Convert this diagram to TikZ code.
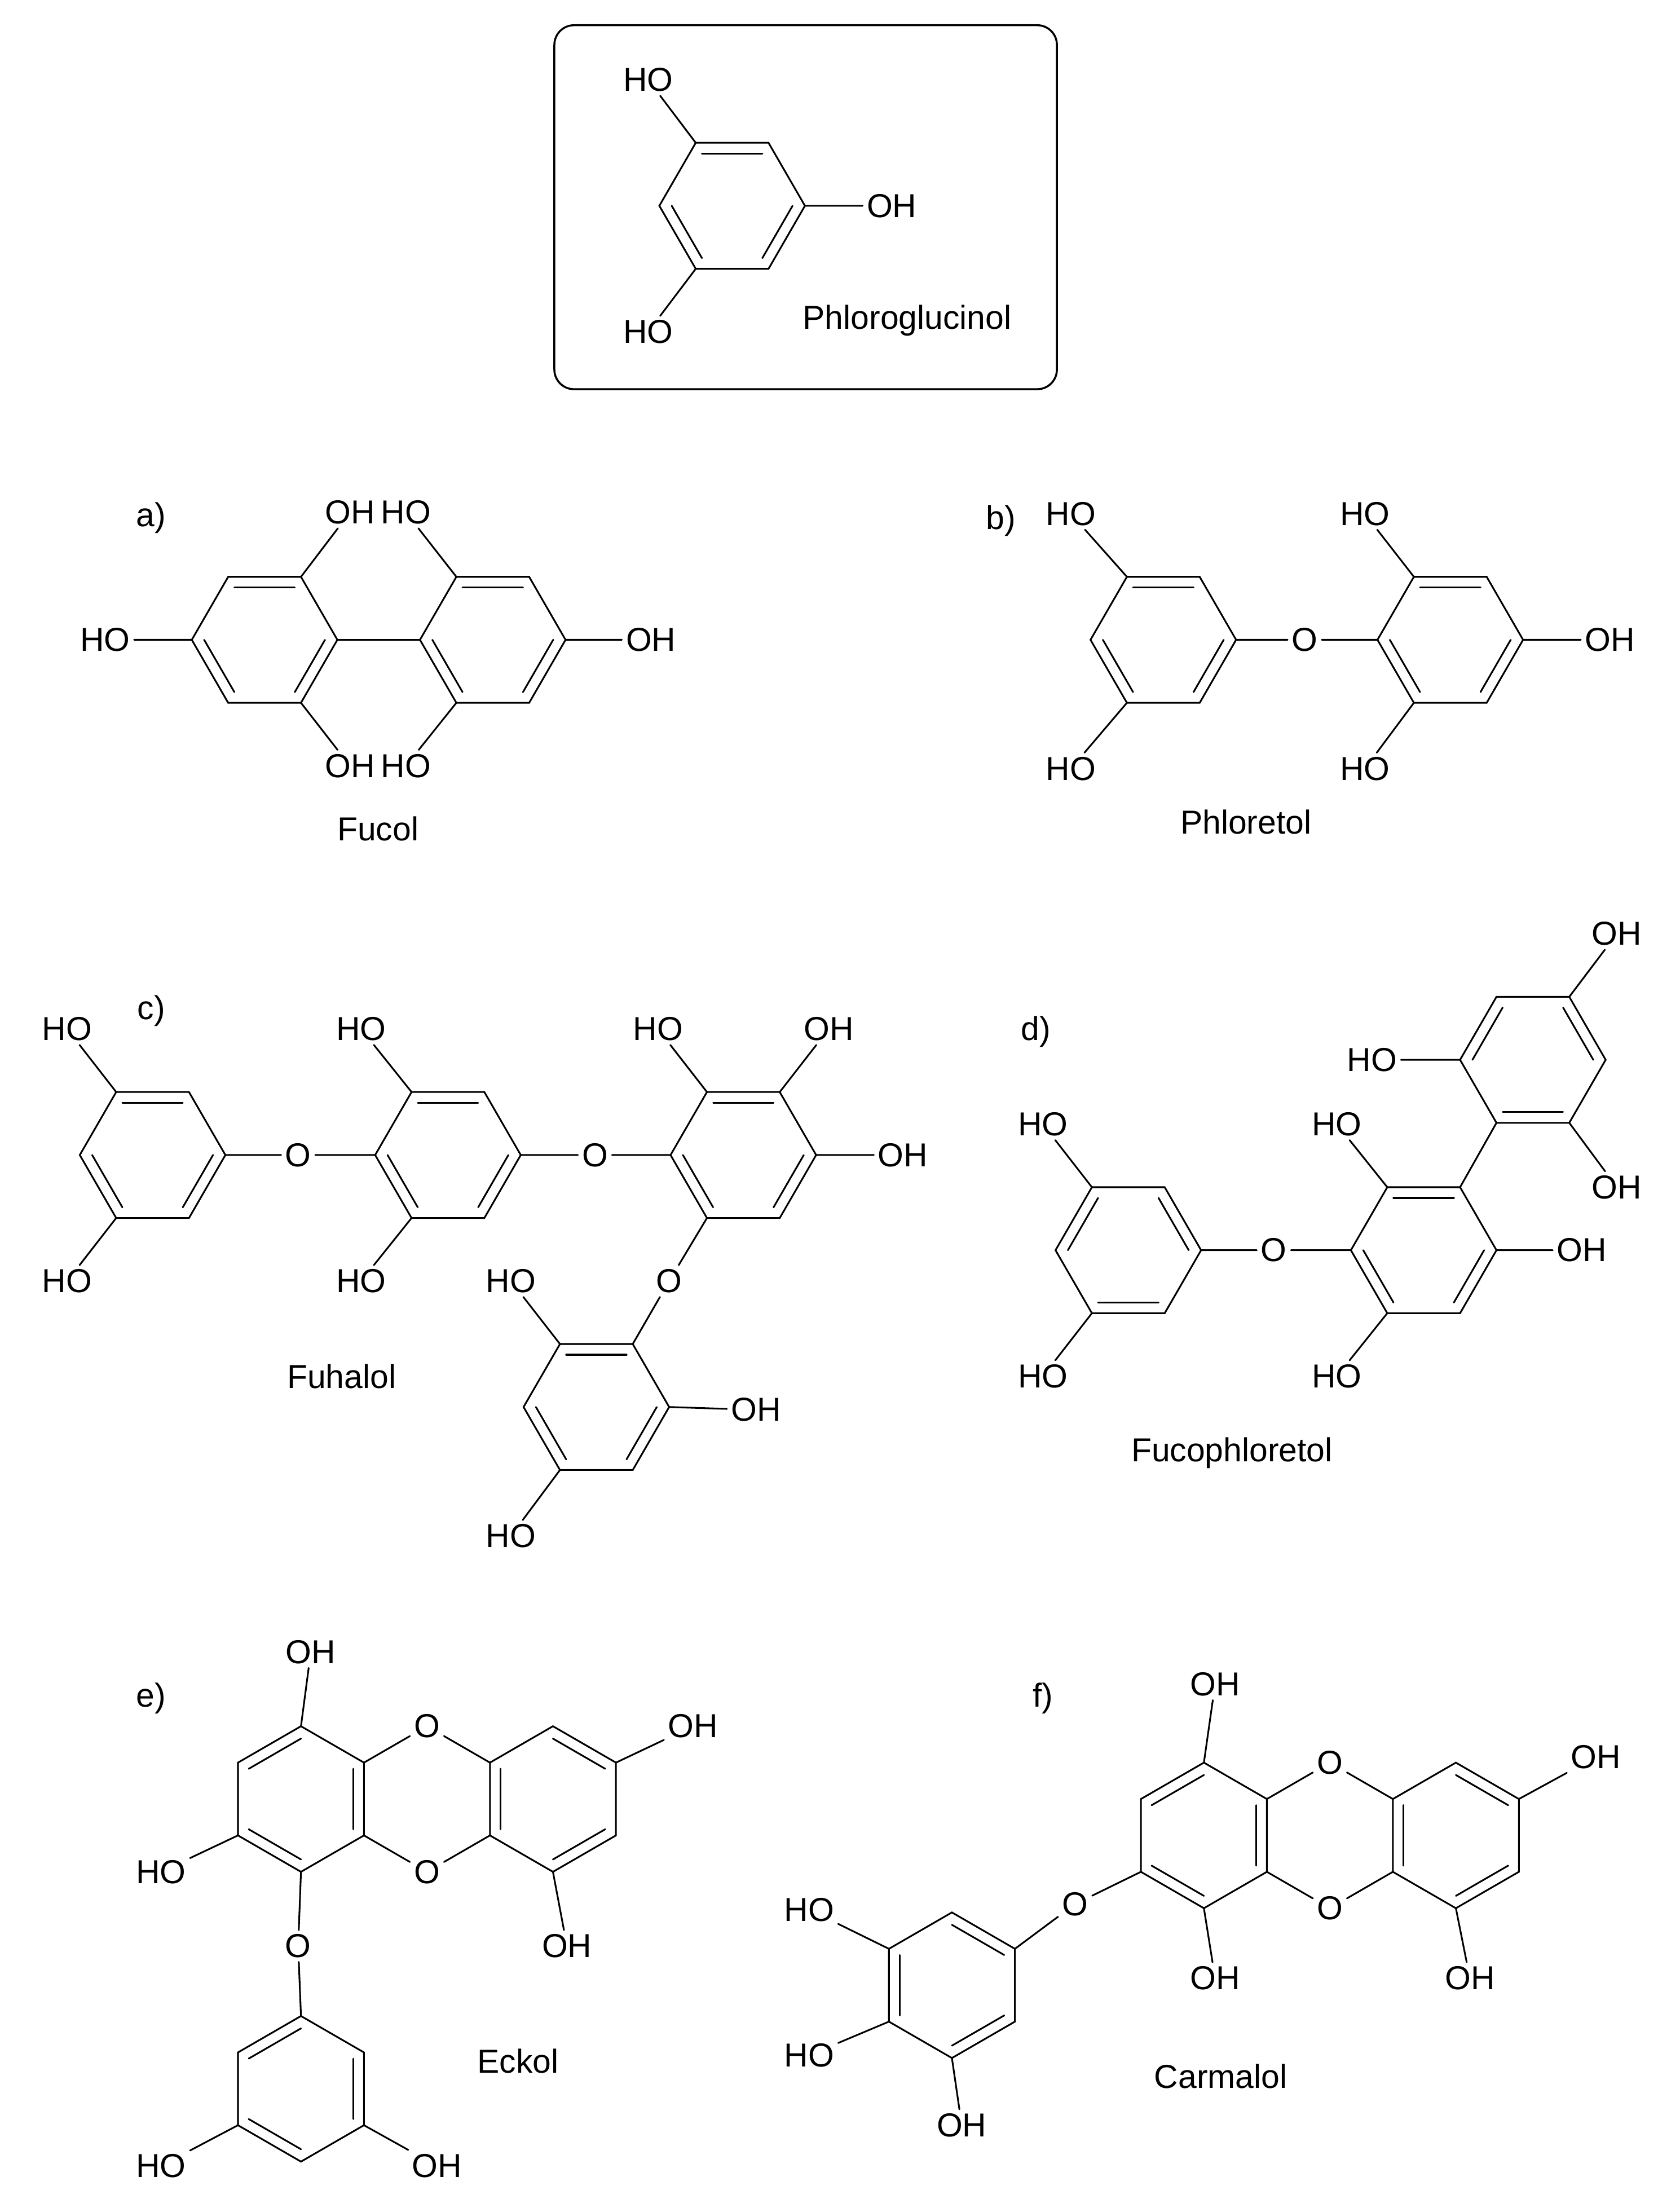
\documentclass[tikz,border=0pt]{standalone}
\usepackage{fontspec}
\newfontfamily\sfont{Liberation Sans}
\usetikzlibrary{calc}
\newcommand\atomfont{\sfont\fontsize{13.5}{15}\selectfont}
\tikzset{bond/.style={line width=0.7pt,line cap=round},
 atom/.style={font=\atomfont,inner sep=1.5pt},
 lbl/.style={font=\atomfont}}
\newcommand\ringF[4]{%
 \coordinate (#1) at (#2,#3);
 \coordinate (#1-1) at (#2+52,#3);
 \coordinate (#1-2) at (#2+26,#3-45);
 \coordinate (#1-3) at (#2-26,#3-45);
 \coordinate (#1-4) at (#2-52,#3);
 \coordinate (#1-5) at (#2-26,#3+45);
 \coordinate (#1-6) at (#2+26,#3+45);
 \draw[bond] (#1-1)--(#1-2)--(#1-3)--(#1-4)--(#1-5)--(#1-6)--cycle;
 \foreach \a/\b in {#4} \draw[bond] ($(#1)!0.83!(#1-\a)$) -- ($(#1)!0.83!(#1-\b)$);}
\newcommand\ringP[4]{%
 \coordinate (#1) at (#2,#3);
 \coordinate (#1-1) at (#2+45,#3-26);
 \coordinate (#1-2) at (#2,#3-52);
 \coordinate (#1-3) at (#2-45,#3-26);
 \coordinate (#1-4) at (#2-45,#3+26);
 \coordinate (#1-5) at (#2,#3+52);
 \coordinate (#1-6) at (#2+45,#3+26);
 \draw[bond] (#1-1)--(#1-2)--(#1-3)--(#1-4)--(#1-5)--(#1-6)--cycle;
 \foreach \a/\b in {#4} \draw[bond] ($(#1)!0.83!(#1-\a)$) -- ($(#1)!0.83!(#1-\b)$);}
\begin{document}
\begin{tikzpicture}[x=0.02cm,y=-0.02cm]
\useasboundingbox (0,0) rectangle (1200,1580);
% Phloroglucinol
\draw[line width=0.8pt,rounded corners=8] (396,18) rectangle (755,278);
\ringF{P}{523}{147}{2/3,4/5,6/1}
\node[atom] (p1) at (463,57) {HO};
\node[atom] (p2) at (637,147) {OH};
\node[atom] (p3) at (463,237) {HO};
\draw[bond] (P-3)--(p1) (P-1)--(p2) (P-5)--(p3);
\node[lbl] (pl) at (648,229) {Phloroglucinol};
% a) Fucol
\node[lbl] (la) at (108,370) {a)};
\ringF{A}{189}{457}{2/3,4/5,6/1}
\ringF{B}{352}{457}{2/3,4/5,6/1}
\draw[bond] (A-1)--(B-4);
\node[atom] (a1) at (75,457) {HO};
\node[atom] (a2) at (250,366) {OH};
\node[atom] (a3) at (250,547) {OH};
\node[atom] (a4) at (290,366) {HO};
\node[atom] (a5) at (290,547) {HO};
\node[atom] (a6) at (465,457) {OH};
\draw[bond] (A-4)--(a1) (A-2)--(a2) (A-6)--(a3) (B-3)--(a4) (B-5)--(a5) (B-1)--(a6);
\node[lbl] (al) at (270,592) {Fucol};
% b) Phloretol
\node[lbl] (lb) at (715,372) {b)};
\ringF{C}{831}{457}{2/3,4/5,6/1}
\ringF{D}{1036}{457}{2/3,4/5,6/1}
\node[atom] (bO) at (932,457) {O};
\node[atom] (b1) at (765,367) {HO};
\node[atom] (b2) at (765,549) {HO};
\node[atom] (b3) at (975,367) {HO};
\node[atom] (b4) at (975,549) {HO};
\node[atom] (b5) at (1150,457) {OH};
\draw[bond] (C-1)--(bO)--(D-4) (C-3)--(b1) (C-5)--(b2) (D-3)--(b3) (D-5)--(b4) (D-1)--(b5);
\node[lbl] (bl) at (890,587) {Phloretol};
% c) Fuhalol
\node[lbl] (lc) at (108,722) {c)};
\ringF{E}{109}{825}{2/3,4/5,6/1}
\ringF{F}{320}{825}{2/3,4/5,6/1}
\ringF{G}{531}{825}{2/3,4/5,6/1}
\ringF{H}{426}{1005}{2/3,4/5,6/1}
\node[atom] (cO1) at (213,825) {O};
\node[atom] (cO2) at (425,825) {O};
\node[atom] (cO3) at (478,915) {O};
\node[atom] (c1) at (48,735) {HO};
\node[atom] (c2) at (48,915) {HO};
\node[atom] (c3) at (258,735) {HO};
\node[atom] (c4) at (258,915) {HO};
\node[atom] (c5) at (470,735) {HO};
\node[atom] (c6) at (592,735) {OH};
\node[atom] (c7) at (645,825) {OH};
\node[atom] (c8) at (365,915) {HO};
\node[atom] (c9) at (540,1007) {OH};
\node[atom] (c10) at (365,1097) {HO};
\draw[bond] (E-1)--(cO1)--(F-4) (F-1)--(cO2)--(G-4) (G-5)--(cO3)--(H-2)
 (E-3)--(c1) (E-5)--(c2) (F-3)--(c3) (F-5)--(c4) (G-3)--(c5) (G-2)--(c6)
 (G-1)--(c7) (H-3)--(c8) (H-1)--(c9) (H-5)--(c10);
\node[lbl] (cl) at (244,983) {Fuhalol};
% d) Fucophloretol
\node[lbl] (ld) at (740,737) {d)};
\ringF{I}{806}{893}{1/2,3/4,5/6}
\ringF{J}{1017}{893}{2/3,4/5,6/1}
\ringF{K}{1095}{757}{1/2,3/4,5/6}
\node[atom] (dO) at (910,893) {O};
\node[atom] (d1) at (745,803) {HO};
\node[atom] (d2) at (745,983) {HO};
\node[atom] (d3) at (955,803) {HO};
\node[atom] (d4) at (955,983) {HO};
\node[atom] (d5) at (1130,893) {OH};
\node[atom] (d6) at (980,757) {HO};
\node[atom] (d7) at (1155,667) {OH};
\node[atom] (d8) at (1155,848) {OH};
\draw[bond] (I-1)--(dO)--(J-4) (J-2)--(K-5) (I-3)--(d1) (I-5)--(d2) (J-3)--(d3)
 (J-5)--(d4) (J-1)--(d5) (K-4)--(d6) (K-2)--(d7) (K-6)--(d8);
\node[lbl] (dl) at (880,1038) {Fucophloretol};
% e) Eckol
\node[lbl] (le) at (108,1213) {e)};
\ringP{L}{215}{1285}{2/3,4/5,6/1}
\ringP{M}{395}{1285}{1/2,3/4,5/6}
\ringP{N}{215}{1492}{2/3,4/5,6/1}
\node[atom] (eOa) at (305,1233) {O};
\node[atom] (eOb) at (305,1337) {O};
\node[atom] (eO) at (213,1390) {O};
\node[atom] (e1) at (222,1180) {OH};
\node[atom] (e2) at (115,1337) {HO};
\node[atom] (e3) at (495,1233) {OH};
\node[atom] (e4) at (405,1390) {OH};
\node[atom] (e5) at (115,1547) {HO};
\node[atom] (e6) at (312,1547) {OH};
\draw[bond] (L-1)--(eOa)--(M-3) (L-6)--(eOb)--(M-4) (L-5)--(eO)--(N-2)
 (L-2)--(e1) (L-4)--(e2) (M-1)--(e3) (M-5)--(e4) (N-4)--(e5) (N-6)--(e6);
\node[lbl] (el) at (370,1472) {Eckol};
% f) Carmalol
\node[lbl] (lf) at (745,1213) {f)};
\ringP{Q}{860}{1311}{2/3,4/5,6/1}
\ringP{R}{1040}{1311}{1/2,3/4,5/6}
\ringP{S}{680}{1418}{1/2,3/4,5/6}
\node[atom] (fOa) at (950,1259) {O};
\node[atom] (fOb) at (950,1363) {O};
\node[atom] (fO) at (768,1360) {O};
\node[atom] (f1) at (868,1203) {OH};
\node[atom] (f2) at (868,1413) {OH};
\node[atom] (f3) at (1140,1255) {OH};
\node[atom] (f4) at (1050,1413) {OH};
\node[atom] (f5) at (578,1364) {HO};
\node[atom] (f6) at (578,1468) {HO};
\node[atom] (f7) at (687,1518) {OH};
\draw[bond] (Q-1)--(fOa)--(R-3) (Q-6)--(fOb)--(R-4) (Q-4)--(fO)--(S-1)
 (Q-2)--(f1) (Q-5)--(f2) (R-1)--(f3) (R-5)--(f4) (S-3)--(f5) (S-4)--(f6) (S-5)--(f7);
\node[lbl] (fl) at (872,1483) {Carmalol};
\end{tikzpicture}
\end{document}
